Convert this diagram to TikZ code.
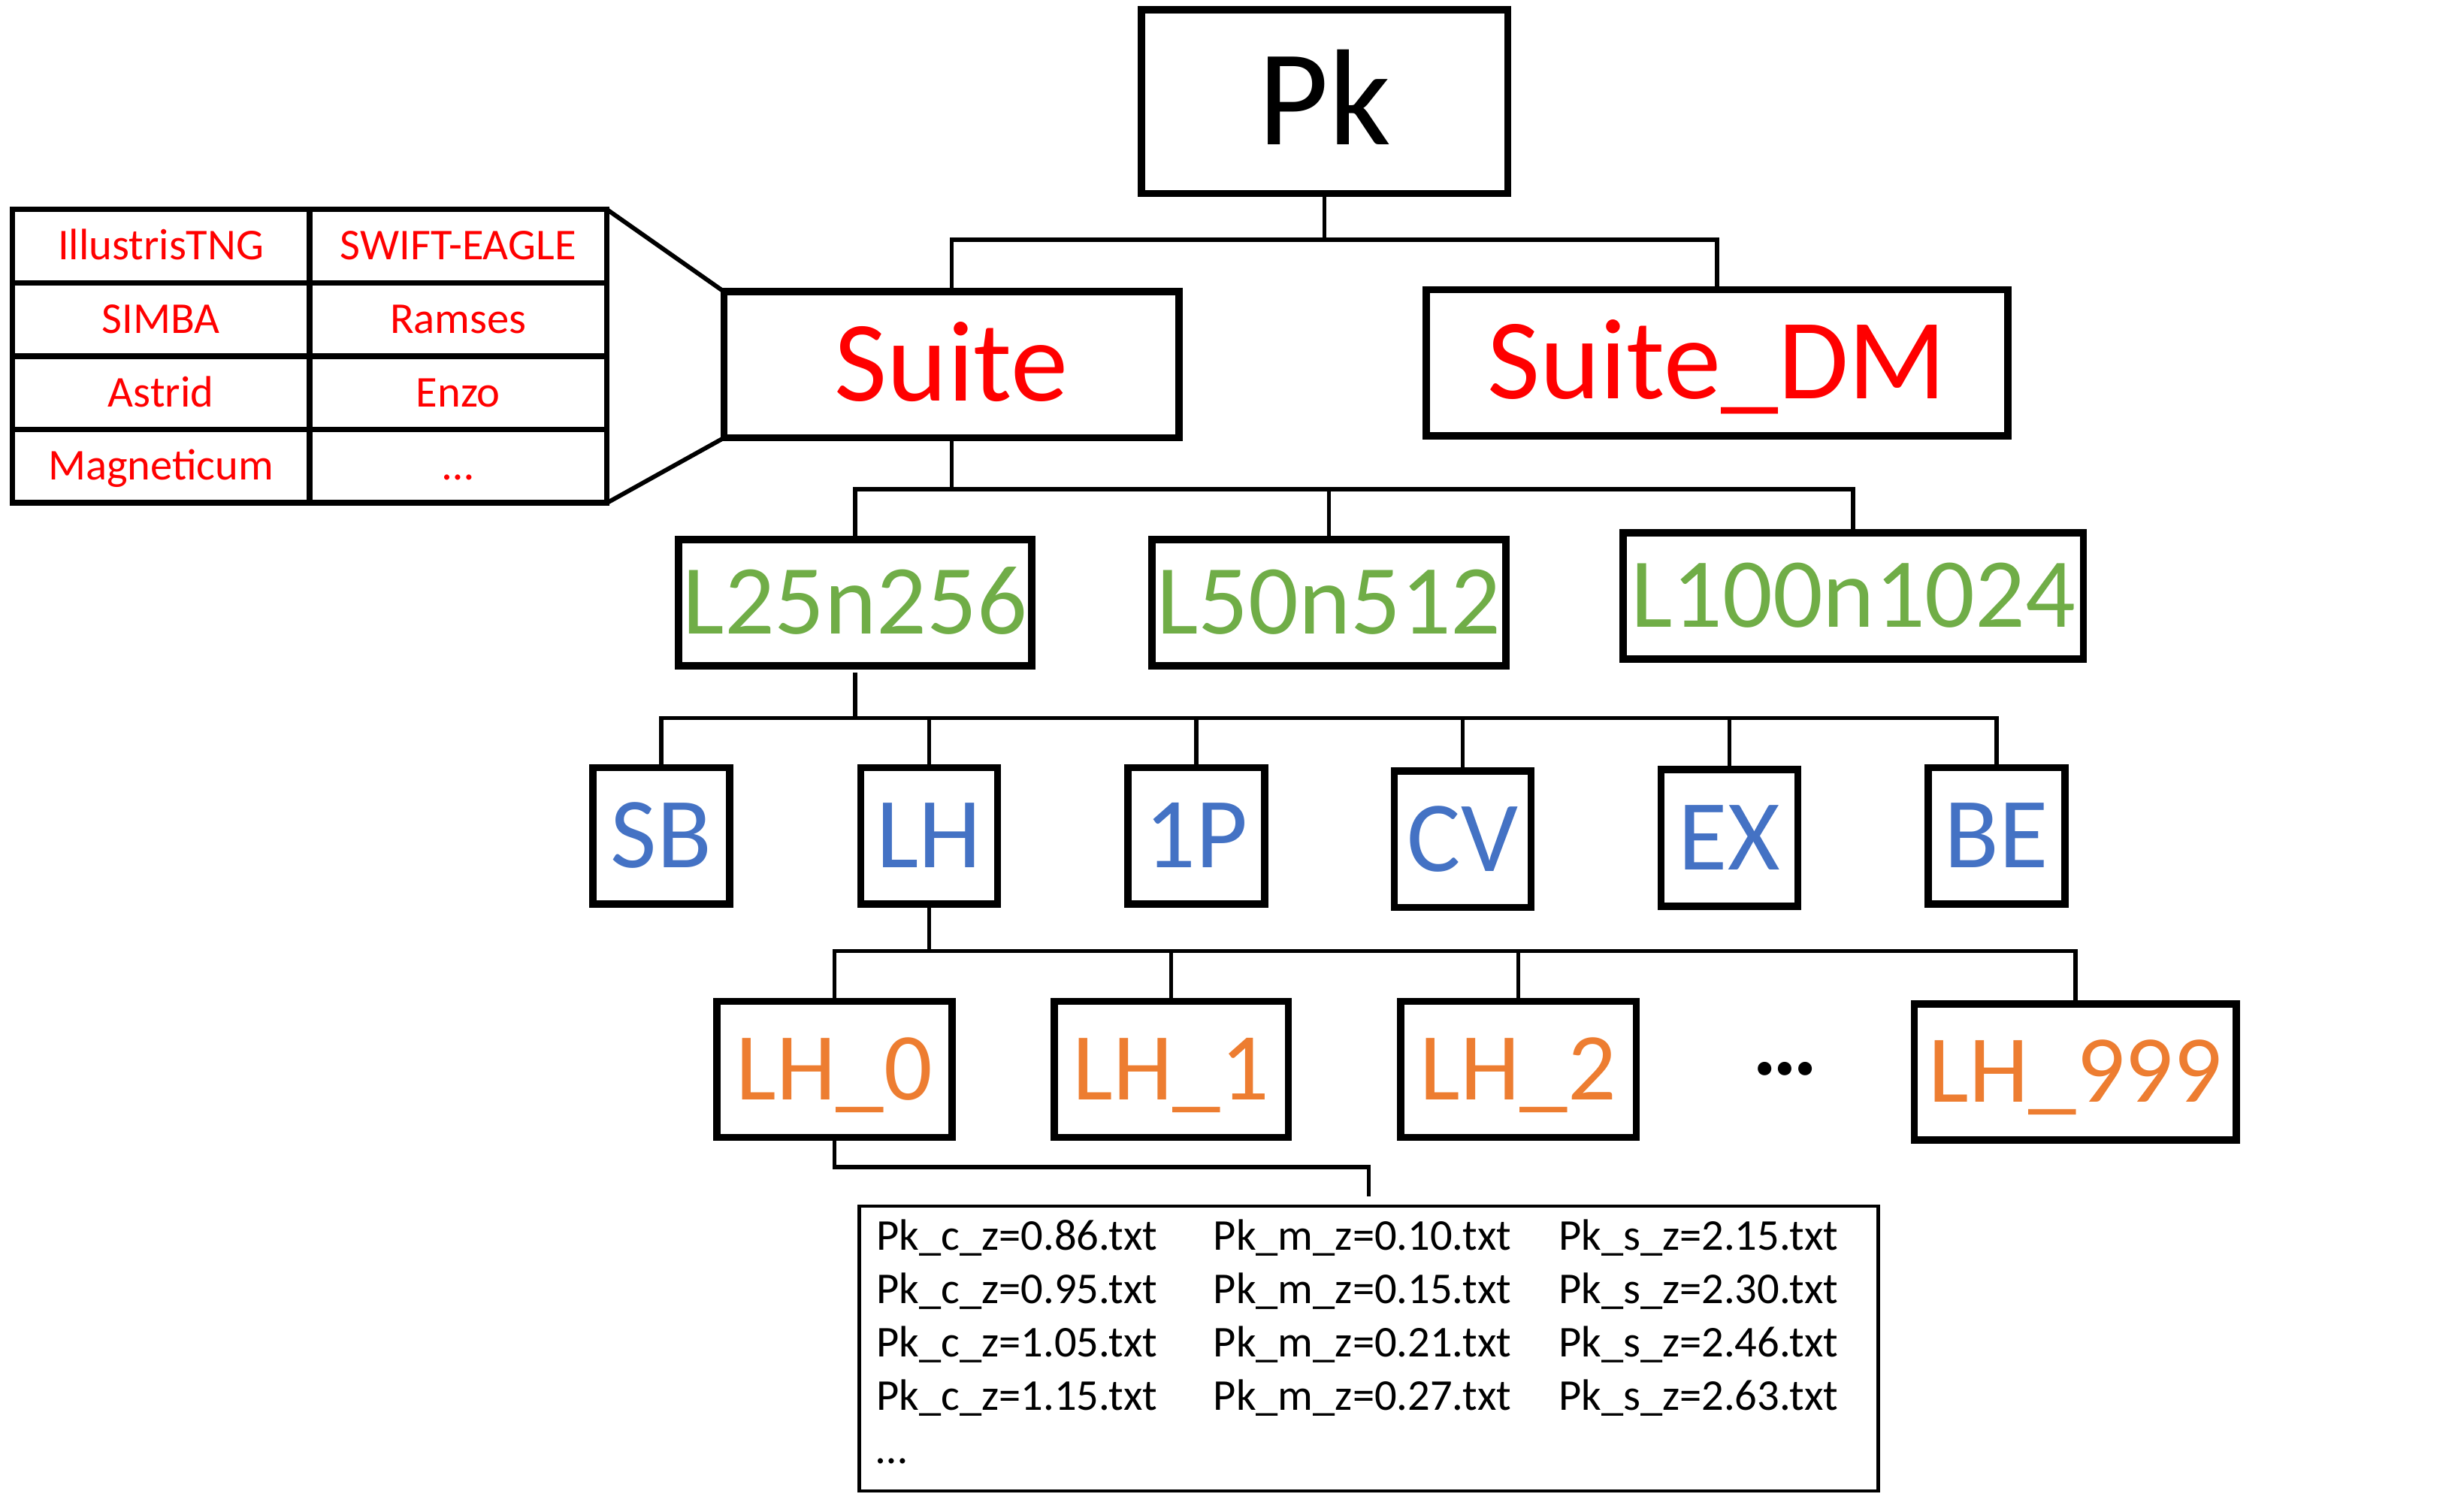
\documentclass[tikz,border=0pt]{standalone}
\usepackage{fontspec}
\setmainfont{Carlito}
\usetikzlibrary{calc}
\definecolor{sred}{HTML}{FF0000}
\definecolor{sgreen}{HTML}{70AD47}
\definecolor{sblue}{HTML}{4472C4}
\definecolor{sorange}{HTML}{ED7D31}
\begin{document}
\begin{tikzpicture}[x=1pt,y=-1pt,
  box/.style={draw, line width=4.6pt, inner sep=0pt, outer sep=0pt, text depth=0pt},
  pkbox/.style={box, minimum width=233pt, minimum height=117pt, text height=55pt, font=\fontsize{87}{87}\selectfont},
  suitebox/.style={box, minimum height=93pt, text=sred, text height=46pt, font=\fontsize{73}{73}\selectfont},
  lbox/.style={box, minimum height=80.5pt, text=sgreen, text height=40pt, font=\fontsize{63}{63}\selectfont},
  cbox/.style={box, minimum width=87pt, minimum height=87pt, text=sblue, text height=40.5pt, font=\fontsize{64}{64}\selectfont},
  rbox/.style={box, minimum height=86.5pt, text=sorange, text height=38.5pt, font=\fontsize{61}{61}\selectfont},
  cell/.style={draw, line width=3.6pt, inner sep=0pt, outer sep=0pt, minimum width=189.2pt, minimum height=46.67pt, text=sred, text height=17.7pt, text depth=0pt, font=\fontsize{28}{28}\selectfont},
  filebox/.style={draw, line width=2.2pt, inner sep=0pt, outer sep=0pt, minimum width=648.6pt, minimum height=181.2pt},
  conn/.style={line width=2.6pt},
  thinline/.style={line width=2.8pt}]
\useasboundingbox (0,0) rectangle (1568,960);

% top
\node[pkbox] (pk) at (842.9,64.7) {Pk};
\node[suitebox, minimum width=289.5pt] (suite) at (605.5,232.1) {Suite};
\node[suitebox, minimum width=370pt] (suitedm) at (1092.6,230.9) {Suite\_DM};

% table of suites
\node[cell] (c11) at (102.4,156.6) {IllustrisTNG};
\node[cell] (c12) at (291.6,156.6) {SWIFT-EAGLE};
\node[cell] (c21) at (102.4,203.3) {SIMBA};
\node[cell] (c22) at (291.6,203.3) {Ramses};
\node[cell] (c31) at (102.4,250.0) {Astrid};
\node[cell] (c32) at (291.6,250.0) {Enzo};
\node[cell] (c41) at (102.4,296.7) {Magneticum};
\node[cell] (c42) at (291.6,296.7) {…};
\draw[thinline] (c12.north east) -- (suite.north west);
\draw[thinline] (c42.south east) -- (suite.south west);

% boxes sizes
\node[lbox, minimum width=225pt] (l25) at (544.2,383.5) {L25n256};
\node[lbox, minimum width=225pt] (l50) at (845.7,383.5) {L50n512};
\node[lbox, minimum width=293pt] (l100) at (1179.3,379.2) {L100n1024};

% sets
\node[cbox] (sb) at (420.8,531.9) {SB};
\node[cbox] (lh) at (591.3,531.9) {LH};
\node[cbox] (op) at (761.3,531.9) {1P};
\node[cbox] (cv) at (930.8,534.0) {CV};
\node[cbox] (ex) at (1100.5,533.2) {EX};
\node[cbox] (be) at (1270.5,531.9) {BE};

% simulations
\node[rbox, minimum width=149.5pt] (lh0) at (531,680.5) {LH\_0};
\node[rbox, minimum width=149pt] (lh1) at (745.3,680.5) {LH\_1};
\node[rbox, minimum width=150pt] (lh2) at (966.2,680.5) {LH\_2};
\node[rbox, minimum width=205pt] (lh999) at (1320.7,682.2) {LH\_999};
\node[anchor=base, inner sep=0pt, font=\fontsize{58}{58}\selectfont\bfseries] (dots) at (1136,684) {…};

% files
\node[filebox] (files) at (871,858.1) {};
\node[anchor=base west, inner sep=0pt, font=\fontsize{28}{34}\selectfont] (filelist) at (557.5,795.4)
{\begin{tabular}[t]{@{}p{214.5pt}@{}p{219.6pt}@{}l@{}}
Pk\_c\_z=0.86.txt & Pk\_m\_z=0.10.txt & Pk\_s\_z=2.15.txt\\
Pk\_c\_z=0.95.txt & Pk\_m\_z=0.15.txt & Pk\_s\_z=2.30.txt\\
Pk\_c\_z=1.05.txt & Pk\_m\_z=0.21.txt & Pk\_s\_z=2.46.txt\\
Pk\_c\_z=1.15.txt & Pk\_m\_z=0.27.txt & Pk\_s\_z=2.63.txt\\
… & & \\
\end{tabular}};

% connector levels
\coordinate (y1) at (0,152.5);
\coordinate (y2) at (0,311.4);
\coordinate (y3) at (0,456.9);
\coordinate (y4) at (0,605.2);
\coordinate (y5) at (0,742.7);

\draw[conn] (pk.south) -- (pk.south |- y1);
\draw[conn] (suite.north) |- (pk.south |- y1) -| (suitedm.north);

\draw[conn] (suite.south) -- (suite.south |- y2);
\draw[conn] (l25.north) |- (suite.south |- y2) -| (l100.north);
\draw[conn] (l50.north) -- (l50.north |- y2);

\draw[conn, shorten <=4pt] (l25.south) -- (l25.south |- y3);
\draw[conn] (sb.north) |- (l25.south |- y3) -| (be.north);
\draw[conn] (lh.north) -- (lh.north |- y3);
\draw[conn] (op.north) -- (op.north |- y3);
\draw[conn] (cv.north) -- (cv.north |- y3);
\draw[conn] (ex.north) -- (ex.north |- y3);

\draw[conn] (lh.south) -- (lh.south |- y4);
\draw[conn] (lh0.north) |- (lh.south |- y4) -| (lh999.north);
\draw[conn] (lh1.north) -- (lh1.north |- y4);
\draw[conn] (lh2.north) -- (lh2.north |- y4);

\draw[conn, shorten >=6pt] (lh0.south) |- (files.north |- y5) -- (files.north);
\end{tikzpicture}
\end{document}
